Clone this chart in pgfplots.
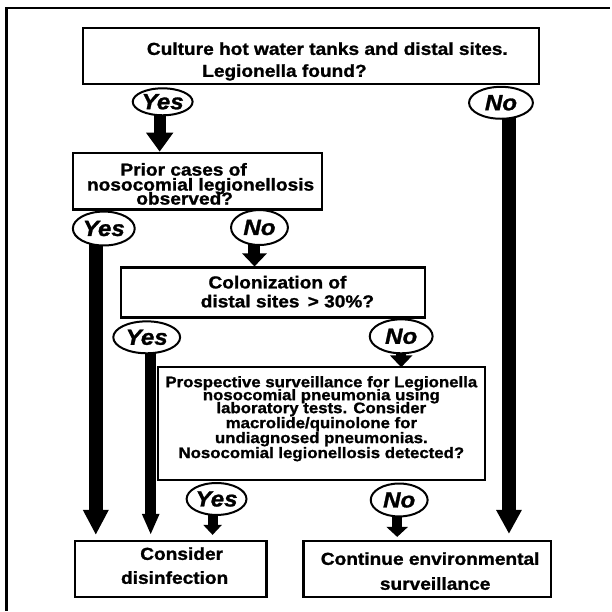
\documentclass[border=0pt]{standalone}
\usepackage{fontspec}
\setmainfont{Liberation Sans}[FakeStretch=1.1, FakeBold=1.2]
\usepackage{pgfplots}
\pgfplotsset{compat=1.18}
\usetikzlibrary{arrows.meta,shapes.geometric}
\tikzset{
  bx/.style={black, line width=2.3bp, line cap=rect, line join=miter, mark=none},
  tx/.style={anchor=base, inner sep=0pt, font=\fontsize{17.4bp}{17.4bp}\selectfont\bfseries},
  tz/.style={anchor=base, inner sep=0pt, font=\fontsize{15.3bp}{15.3bp}\selectfont\bfseries},
  el/.style={draw, ellipse, line width=2bp, fill=white, inner sep=0pt, font=\fontsize{22bp}{22bp}\selectfont\bfseries\itshape},
}
\begin{document}
\begin{tikzpicture}
\begin{axis}[hide axis, scale only axis, width=611bp, height=612bp,
  xmin=0, xmax=611, ymin=0, ymax=612, y dir=reverse, clip=false]
% invisible extent
\addplot[draw=none, mark=none] coordinates {(0,0) (611,612)};
% outer frame (top and left)
\addplot[black, line width=2.5bp, mark=none] coordinates {(6.5,612) (6.5,8) (611,8)};
% boxes
\addplot[bx] coordinates {(83,28) (540,28) (540,84) (83,84) (83,28)};
\addplot[bx] coordinates {(73,153) (323,153) (323,210) (73,210) (73,153)};
\addplot[bx] coordinates {(121,268) (426,268) (426,318) (121,318) (121,268)};
\addplot[bx] coordinates {(158,368) (486,368) (486,481) (158,481) (158,368)};
\addplot[bx] coordinates {(75,542) (267,542) (267,598) (75,598) (75,542)};
\addplot[bx] coordinates {(304,542) (552,542) (552,598) (304,598) (304,542)};
% arrows
\addplot[black, line width=12bp, mark=none, -{Triangle[width=26bp,length=19bp]}] coordinates {(160,112) (160,152)};
\addplot[black, line width=14bp, mark=none, -{Triangle[width=24bp,length=24bp]}] coordinates {(510,115) (510,535)};
\addplot[black, line width=14bp, mark=none, -{Triangle[width=24bp,length=25bp]}] coordinates {(96,243) (96,536)};
\addplot[black, line width=12bp, mark=none, -{Triangle[width=24bp,length=13bp]}] coordinates {(255,243) (255,267)};
\addplot[black, line width=11bp, mark=none, -{Triangle[width=16bp,length=21bp]}] coordinates {(151,350) (151,536)};
\addplot[black, line width=10bp, mark=none, -{Triangle[width=22bp,length=12bp]}] coordinates {(402,350) (402,368)};
\addplot[black, line width=10bp, mark=none, -{Triangle[width=18bp,length=10bp]}] coordinates {(213,512) (213,536)};
\addplot[black, line width=10bp, mark=none, -{Triangle[width=21bp,length=10bp]}] coordinates {(398,514) (398,538)};
% ellipses
\node[el, minimum width=60bp, minimum height=27bp] at (axis cs:163,102) {Yes};
\node[el, minimum width=64bp, minimum height=32bp] at (axis cs:502,103) {No};
\node[el, minimum width=62bp, minimum height=34bp] at (axis cs:104,229) {Yes};
\node[el, minimum width=57bp, minimum height=35bp] at (axis cs:260,228) {No};
\node[el, minimum width=67bp, minimum height=32bp] at (axis cs:147,338) {Yes};
\node[el, minimum width=63bp, minimum height=34bp] at (axis cs:402,337) {No};
\node[el, minimum width=60bp, minimum height=32bp] at (axis cs:217,500) {Yes};
\node[el, minimum width=57bp, minimum height=33bp] at (axis cs:400,501) {No};
% texts
\node[tx] at (axis cs:328,55) {Culture hot water tanks and distal sites.};
\node[tx] at (axis cs:285,77) {Legionella found?};
\node[tx] at (axis cs:184,176) {Prior cases of};
\node[tx] at (axis cs:201,191) {nosocomial legionellosis};
\node[tx] at (axis cs:185,205) {observed?};
\node[tx] at (axis cs:278,289) {Colonization of};
\node[tx] at (axis cs:288,308) {distal sites \,> 30\%?};
\node[tz] at (axis cs:322,388) {Prospective surveillance for Legionella};
\node[tz] at (axis cs:322,401) {nosocomial pneumonia using};
\node[tz] at (axis cs:322,414) {laboratory tests. Consider};
\node[tz] at (axis cs:322,429) {macrolide/quinolone for};
\node[tz] at (axis cs:322,444) {undiagnosed pneumonias.};
\node[tz] at (axis cs:322,459) {Nosocomial legionellosis detected?};
\node[tx] at (axis cs:182,561) {Consider};
\node[tx] at (axis cs:175,585) {disinfection};
\node[tx] at (axis cs:431,566) {Continue environmental};
\node[tx] at (axis cs:436,591) {surveillance};
\end{axis}
\end{tikzpicture}
\end{document}
